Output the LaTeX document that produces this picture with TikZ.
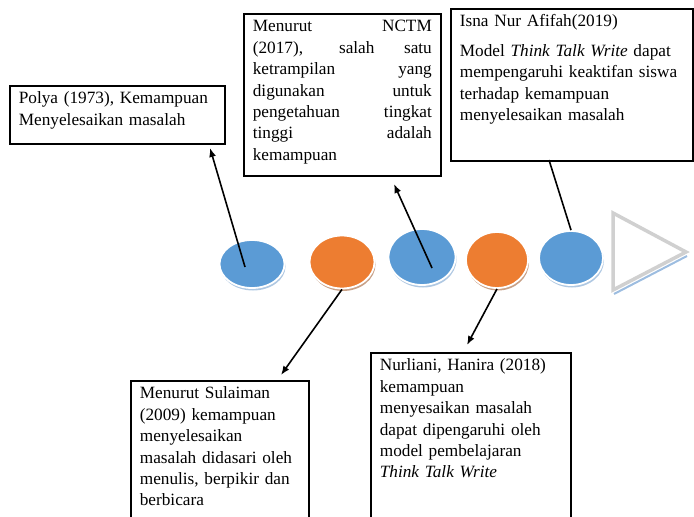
\documentclass[tikz,border=0pt]{standalone}
\usepackage{fontspec}
\setmainfont{Liberation Serif}
\usepackage[rgb]{xcolor}
\usetikzlibrary{arrows.meta, shapes.geometric, shadows, positioning}
\definecolor{dotblue}{HTML}{5B9BD5}
\definecolor{dotorange}{HTML}{ED7D31}
\definecolor{blueshade}{HTML}{AFC8E2}
\definecolor{orangeshade}{HTML}{C8A086}
\definecolor{arrowgray}{HTML}{D0D0D0}
\definecolor{arrowshade}{HTML}{9DBDE0}
\tikzset{
  refbox/.style={draw=black, line width=1.7bp, fill=white, anchor=north west,
    inner xsep=9bp, inner ysep=5bp, text height=13bp,
    font=\fontsize{17.3}{21.5}\selectfont},
  dot/.style={ellipse, draw=white, line width=1.8bp, inner sep=0pt},
  bluedot/.style={dot, fill=dotblue,
    drop shadow={shadow xshift=1bp, shadow yshift=-2.5bp, fill=blueshade, opacity=1}},
  orangedot/.style={dot, fill=dotorange,
    drop shadow={shadow xshift=1bp, shadow yshift=-2.5bp, fill=orangeshade, opacity=1}},
  arr/.style={-{Latex[length=9bp,width=7bp]}, line width=1.6bp},
  link/.style={line width=1.6bp}
}
\begin{document}
\begin{tikzpicture}[x=1bp,y=-1bp]
  \useasboundingbox (0,0) rectangle (694,517);
  \clip (0,0) rectangle (694,517);
%%
  % Node: dots
  \node[bluedot,   minimum width=65bp, minimum height=48bp] (c1) at (252,264) {};
  \node[orangedot, minimum width=65bp, minimum height=53bp] (c2) at (342,262) {};
  \node[bluedot,   minimum width=67bp, minimum height=56bp] (c3) at (422,257) {};
  \node[orangedot, minimum width=62bp, minimum height=56bp] (c4) at (497,260) {};
  \node[bluedot,   minimum width=64bp, minimum height=54bp] (c5) at (571,258) {};
  % Shape: triangle
  \draw[arrowshade, line width=2bp] (614,294) -- (687,256);
  \draw[arrowgray, line width=3.5bp, fill=white] (613,213) -- (686,252) -- (613,290) -- cycle;
  % Node: boxes
  \node[refbox, text width=197bp, text depth=35bp, align=left] (polya) at (9,85)
    {Polya (1973), Kemampuan\\ Menyelesaikan masalah};
  \node[refbox, text width=179bp, text depth=139bp, align=justify] (nctm) at (243,13)
    {Menurut NCTM\linebreak (2017), salah satu\linebreak ketrampilan yang\linebreak
     digunakan untuk\linebreak pengetahuan tingkat\linebreak tinggi adalah\linebreak kemampuan};
  \node[refbox, text width=224bp, text depth=129bp, align=left] (isna) at (450,8)
    {Isna Nur Afifah(2019)\\[8bp] Model \textit{Think Talk Write} dapat\\
     mempengaruhi keaktifan siswa\\ terhadap kemampuan\\ menyelesaikan masalah};
  \node[refbox, text width=160bp, text depth=160bp, align=left] (sulaiman) at (130,380)
    {Menurut Sulaiman\\ (2009) kemampuan\\ menyelesaikan\\ masalah didasari oleh\\
     menulis, berpikir dan\\ berbicara};
  \node[refbox, text width=182bp, text depth=190bp, align=left] (nurliani) at (370,352)
    {Nurliani, Hanira (2018)\\ kemampuan\\ menyesaikan masalah\\ dapat dipengaruhi oleh\\
     model pembelajaran\\ \textit{Think Talk Write}};
  % Edge: c1 -- polya
  \coordinate (s1) at (245,267);
  \coordinate (t1) at (210,148);
  \draw[arr] (s1) -- (t1);
  % Edge: c3 -- nctm
  \coordinate (s3) at (432,268);
  \coordinate (t3) at (394,184);
  \draw[arr] (s3) -- (t3);
  % Edge: c5 -- isna
  \coordinate (t5) at (549,160);
  \draw[link] (c5.north) -- (t5);
  % Edge: c2 -- sulaiman
  \coordinate (t2) at (281,375);
  \draw[arr] (c2.south) -- (t2);
  % Edge: c4 -- nurliani
  \coordinate (t4) at (467,345);
  \draw[arr] (c4.south) -- (t4);
%
\end{tikzpicture}
\end{document}
